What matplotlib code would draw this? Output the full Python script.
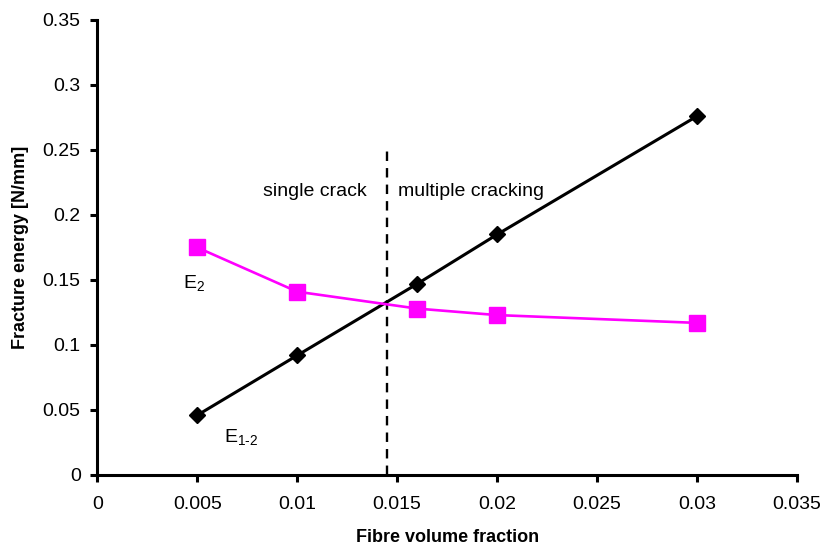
import matplotlib.pyplot as plt

plt.rcParams["font.family"] = ["Liberation Sans", "DejaVu Sans"]
plt.rcParams["mathtext.fontset"] = "custom"
plt.rcParams["mathtext.rm"] = "Liberation Sans"
plt.rcParams["mathtext.it"] = "Liberation Sans:italic"

# Data
vf_e12 = [0.005, 0.01, 0.016, 0.02, 0.03]
e12 = [0.046, 0.092, 0.147, 0.185, 0.276]

vf_e2 = [0.005, 0.01, 0.016, 0.02, 0.03]
e2 = [0.175, 0.141, 0.128, 0.123, 0.117]

transition_vf = 0.01447
transition_top = 0.254

fig = plt.figure(figsize=(8.25, 5.52), dpi=100)
ax = fig.add_axes([0.118, 0.1395, 0.848, 0.8243])

ax.plot(vf_e12, e12, color="black", lw=2.2, marker="D", markersize=8.5, zorder=3)
ax.plot(vf_e2, e2, color="#ff00ff", lw=1.9, marker="s", markersize=11, zorder=3)

ax.plot([transition_vf, transition_vf], [0, transition_top], color="black",
        lw=1.7, ls=(0, (4, 3)), zorder=2)

ax.text(0.0083, 0.218, "single crack", fontsize=14, va="center")
ax.text(0.01505, 0.218, "multiple cracking", fontsize=14, va="center")
ax.text(0.0043, 0.148, r"E$_{\text{2}}$", fontsize=14, va="center")
ax.text(0.00635, 0.029, r"E$_{\text{1-2}}$", fontsize=14, va="center")

ax.set_xlim(0, 0.035)
ax.set_ylim(0, 0.35)
ax.set_xticks([0, 0.005, 0.01, 0.015, 0.02, 0.025, 0.03, 0.035])
ax.set_xticklabels(["0", "0.005", "0.01", "0.015", "0.02", "0.025", "0.03", "0.035"])
ax.set_yticks([0, 0.05, 0.1, 0.15, 0.2, 0.25, 0.3, 0.35])
ax.set_yticklabels(["0", "0.05", "0.1", "0.15", "0.2", "0.25", "0.3", "0.35"])

for side in ["top", "right"]:
    ax.spines[side].set_visible(False)
for side in ["left", "bottom"]:
    ax.spines[side].set_linewidth(2.2)
ax.tick_params(width=2.2, length=5, labelsize=14, direction="out")
ax.tick_params(axis="x", pad=10)
ax.tick_params(axis="y", pad=7)

ax.set_xlabel("Fibre volume fraction", fontsize=13, fontweight="bold", labelpad=12)
ax.set_ylabel("Fracture energy [N/mm]", fontsize=13, fontweight="bold", labelpad=10)

fig.savefig("out.png", dpi=100)
